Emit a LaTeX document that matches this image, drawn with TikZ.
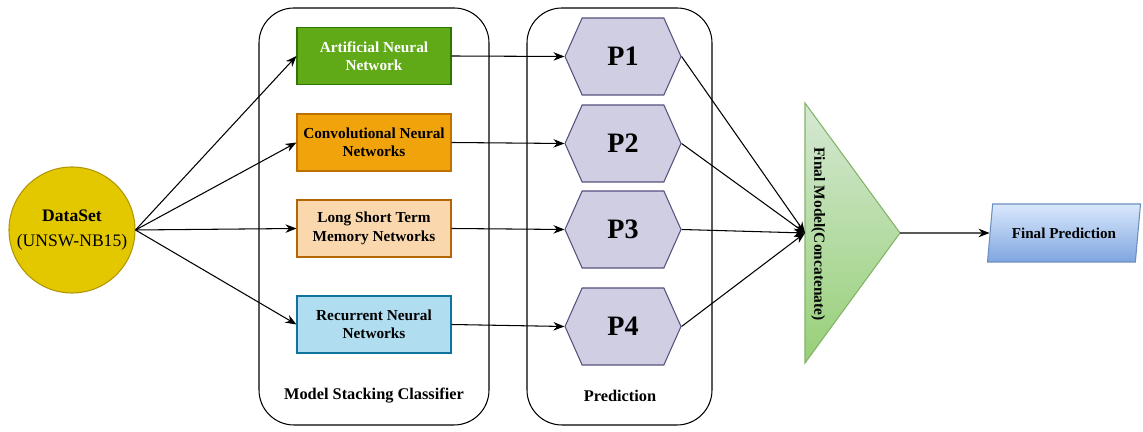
\documentclass[tikz,border=0pt]{standalone}
\usepackage{fontspec}
\setmainfont{Liberation Serif}
\usetikzlibrary{shapes.geometric,shapes.symbols,arrows.meta}
\definecolor{stkdata}{HTML}{E3C800}
\definecolor{stkdataline}{HTML}{B09500}
\definecolor{stkann}{HTML}{60A917}
\definecolor{stkannline}{HTML}{2D7600}
\definecolor{stkcnn}{HTML}{F0A30A}
\definecolor{stkcnnline}{HTML}{BD7000}
\definecolor{stklstm}{HTML}{FAD7AC}
\definecolor{stklstmline}{HTML}{B46504}
\definecolor{stkrnn}{HTML}{B1DDF0}
\definecolor{stkrnnline}{HTML}{10739E}
\definecolor{stkhex}{HTML}{D0CEE2}
\definecolor{stkhexline}{HTML}{56517E}
\definecolor{stkcatlight}{HTML}{D5E8D4}
\definecolor{stkcatdark}{HTML}{97D077}
\definecolor{stkcatline}{HTML}{82B366}
\definecolor{stkoutlight}{HTML}{DAE8FC}
\definecolor{stkoutdark}{HTML}{7EA6E0}
\definecolor{stkoutline}{HTML}{6C8EBF}

\begin{document}
\begin{tikzpicture}[
    link/.style={-{Stealth[length=2.2mm,width=1.7mm]}, line width=0.6pt},
    group/.style={draw, rounded corners=0.7cm, line width=0.6pt},
    model/.style={draw, line width=0.6pt, minimum width=3.08cm, minimum height=1.14cm,
        align=center, font=\fontsize{8.7}{10.5}\selectfont\bfseries},
    pred/.style={signal, signal to=west and east, signal pointer angle=132,
        draw=stkhexline, fill=stkhex, line width=0.6pt, minimum width=2.32cm,
        minimum height=1.54cm, font=\fontsize{16}{18}\selectfont\bfseries},
    caption/.style={font=\fontsize{9.3}{11}\selectfont\bfseries}
]
    \useasboundingbox (0,0) rectangle (22.86,8.64);

    % Containers
    \draw[group] (5.18,0.14) rectangle (9.78,8.48);
    \draw[group] (10.54,0.14) rectangle (14.24,8.48);
    \node[caption] (stacklabel) at (7.48,0.72) {Model Stacking Classifier};
    \node[caption] (predlabel) at (12.4,0.72) {Prediction};

    % Dataset
    \node[circle, draw=stkdataline, fill=stkdata, line width=0.6pt, minimum size=2.52cm,
        inner sep=0pt, align=center, font=\fontsize{10}{14}\selectfont] (data) at (1.44,4.04)
        {\textbf{DataSet}\\(UNSW-NB15)};

    % Base models
    \node[model, draw=stkannline, fill=stkann, text=white] (ann) at (7.48,7.52)
        {Artificial Neural\\Network};
    \node[model, draw=stkcnnline, fill=stkcnn] (cnn) at (7.48,5.79)
        {Convolutional Neural\\Networks};
    \node[model, draw=stklstmline, fill=stklstm] (lstm) at (7.48,4.07)
        {Long Short Term\\Memory Networks};
    \node[model, draw=stkrnnline, fill=stkrnn] (rnn) at (7.48,2.15)
        {Recurrent Neural\\Networks};

    % Predictions
    \node[pred] (p1) at (12.46,7.51) {P1};
    \node[pred] (p2) at (12.46,5.77) {P2};
    \node[pred] (p3) at (12.46,4.05) {P3};
    \node[pred] (p4) at (12.46,2.11) {P4};

    % Final model
    \coordinate (catbase) at (16.1,3.98);
    \coordinate (catapex) at (18.0,3.98);
    \shade[draw=stkcatline, top color=stkcatlight, bottom color=stkcatdark, line width=0.6pt]
        (16.1,6.58) -- (catapex) -- (16.1,1.38) -- cycle;
    \node[rotate=-90, font=\fontsize{8.8}{10}\selectfont\bfseries] (catlabel) at (16.36,3.96)
        {Final Model(Concatenate)};

    % Output
    \node[trapezium, trapezium left angle=77, trapezium right angle=103,
        trapezium stretches body, draw=stkoutline, top color=stkoutlight,
        bottom color=stkoutdark, line width=0.6pt, minimum width=3.06cm,
        minimum height=1.16cm, font=\fontsize{8.6}{10}\selectfont\bfseries]
        (out) at (21.28,3.98) {Final Prediction};

    % Connectors
    \foreach \m in {ann,cnn,lstm,rnn}
        \draw[link] (data.east) -- (\m.west);
    \draw[link] (ann.east) -- (p1.west);
    \draw[link] (cnn.east) -- (p2.west);
    \draw[link] (lstm.east) -- (p3.west);
    \draw[link] (rnn.east) -- (p4.west);
    \foreach \p in {p1,p2,p3,p4}
        \draw[link] (\p.east) -- (catbase);
    \draw[link] (catapex) -- (out.west);
\end{tikzpicture}
\end{document}
